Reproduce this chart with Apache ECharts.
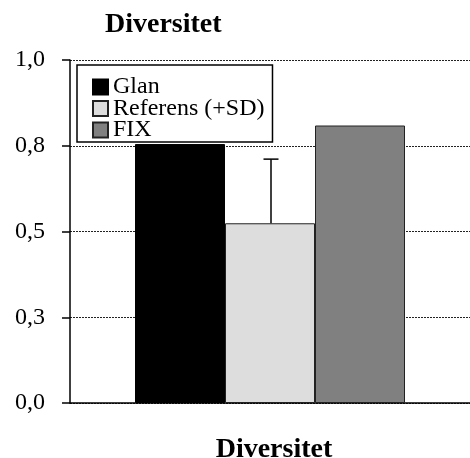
<!DOCTYPE html>
<html>
<head>
<meta charset="utf-8">
<script src="https://cdn.jsdelivr.net/npm/echarts@6/dist/echarts.min.js"></script>
<style>html,body{margin:0;padding:0;background:#fff}#c{width:470px;height:458px}</style>
</head>
<body>
<div id="c"></div>
<script>
const categories = ['Diversitet'];
const seriesNames = ['Glan', 'Referens (+SD)', 'FIX'];
const glanValues = [0.755];
const referensValues = [0.524];
const referensSD = [0.187];
const fixValues = [0.809];
const yTickLabels = ['0,0', '0,3', '0,5', '0,8', '1,0'];

const font = 'Liberation Serif';
const chart = echarts.init(document.getElementById('c'));
chart.setOption({
  animation: false,
  backgroundColor: '#fff',
  title: {
    text: 'Diversitet',
    left: 105, top: 11, padding: 0,
    textStyle: { fontFamily: font, fontSize: 28, fontWeight: 'bold', color: '#000' }
  },
  legend: {
    orient: 'vertical',
    left: 77, top: 65,
    padding: [10, 8, 0, 15],
    itemGap: -2.5,
    itemWidth: 15, itemHeight: 15,
    borderColor: '#000', borderWidth: 1.5,
    backgroundColor: '#fff',
    icon: 'rect',
    data: seriesNames,
    textStyle: { fontFamily: font, fontSize: 24, color: '#000', lineHeight: 22 }
  },
  grid: { left: 70, right: 0, top: 60, bottom: 55, containLabel: false, outerBoundsMode: 'none' },
  xAxis: {
    type: 'category',
    data: categories,
    axisLine: { lineStyle: { color: '#000', width: 1.5 } },
    axisTick: { show: false },
    axisLabel: { show: false },
    name: 'Diversitet',
    nameLocation: 'middle',
    nameGap: 33,
    nameTextStyle: { fontFamily: font, fontSize: 28, fontWeight: 'bold', color: '#000', padding: [0, 0, 0, 8] }
  },
  yAxis: {
    type: 'value',
    min: 0, max: 1, interval: 0.25,
    axisLine: { show: true, lineStyle: { color: '#000', width: 1.5 } },
    axisTick: { show: true, length: 8, lineStyle: { color: '#000', width: 1.5 } },
    axisLabel: {
      margin: 25,
      fontFamily: font, fontSize: 24, color: '#000',
      formatter: function (v) { return yTickLabels[Math.round(v / 0.25)]; }
    },
    splitLine: { show: true, lineStyle: { color: '#222', width: 1, type: [2, 1] } }
  },
  series: [
    {
      name: seriesNames[0], type: 'bar', data: glanValues,
      barWidth: 90, barGap: '0%',
      itemStyle: { color: '#000000', borderColor: '#000', borderWidth: 1 }
    },
    {
      name: seriesNames[1], type: 'bar', data: referensValues,
      barWidth: 90, barGap: '0%',
      itemStyle: { color: '#dddddd', borderColor: '#222', borderWidth: 1 }
    },
    {
      name: seriesNames[2], type: 'bar', data: fixValues,
      barWidth: 90, barGap: '0%',
      itemStyle: { color: '#808080', borderColor: '#222', borderWidth: 1 }
    },
    {
      type: 'custom',
      name: 'sd',
      data: categories.map((c, i) => [i, referensValues[i], referensValues[i] + referensSD[i]]),
      z: 5,
      renderItem: function (params, api) {
        const base = api.coord([api.value(0), api.value(1)]);
        const top = api.coord([api.value(0), api.value(2)]);
        const x = base[0] + 1;
        const style = { stroke: '#000', lineWidth: 1.5 };
        return {
          type: 'group',
          children: [
            { type: 'line', shape: { x1: x, y1: base[1], x2: x, y2: top[1] }, style: style },
            { type: 'line', shape: { x1: x - 7.5, y1: top[1], x2: x + 7.5, y2: top[1] }, style: style }
          ]
        };
      }
    }
  ]
});
</script>
</body>
</html>
